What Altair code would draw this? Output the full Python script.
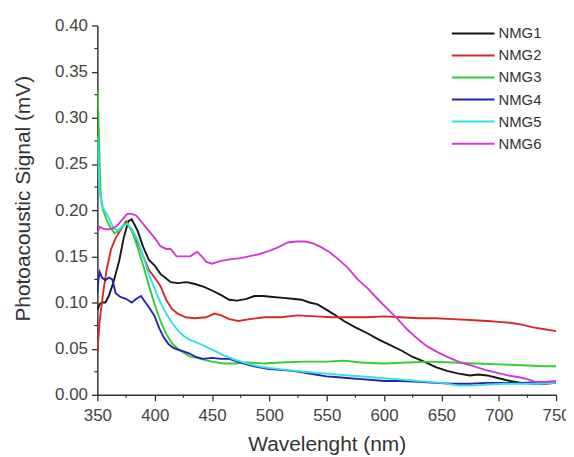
import altair as alt
import pandas as pd

series_names = ["NMG1", "NMG2", "NMG3", "NMG4", "NMG5", "NMG6"]
series_colors = ["#151515", "#d42a2a", "#33cc33", "#2323b0", "#33e0e6", "#d23ad2"]

nmg1_x = [350, 352, 354, 357, 360, 364, 369, 373, 377, 380, 385, 390, 395, 400, 405, 410, 414, 420, 428, 435,
          443, 450, 458, 465, 472, 480, 487, 495, 503, 512, 520, 528, 535, 542, 550, 558, 565, 575, 585, 595,
          605, 615, 625, 635, 645, 655, 665, 675, 682, 690, 700, 710, 720, 730, 740, 750]
nmg1_y = [0.092, 0.098, 0.100, 0.100, 0.107, 0.122, 0.145, 0.170, 0.188, 0.190, 0.178, 0.160, 0.146, 0.140,
          0.131, 0.126, 0.122, 0.121, 0.122, 0.120, 0.117, 0.113, 0.108, 0.103, 0.102, 0.104, 0.107, 0.107,
          0.106, 0.105, 0.104, 0.103, 0.100, 0.098, 0.092, 0.086, 0.080, 0.073, 0.067, 0.060, 0.054, 0.048,
          0.041, 0.036, 0.030, 0.026, 0.023, 0.021, 0.022, 0.021, 0.018, 0.015, 0.013, 0.012, 0.012, 0.013]

nmg2_x = [350, 352, 355, 358, 362, 366, 370, 375, 380, 385, 390, 395, 400, 405, 410, 415, 420, 427, 435, 445,
          452, 458, 465, 473, 483, 496, 510, 525, 540, 555, 570, 585, 600, 615, 630, 645, 660, 675, 690, 700,
          710, 720, 730, 740, 750]
nmg2_y = [0.046, 0.080, 0.110, 0.135, 0.158, 0.170, 0.178, 0.188, 0.178, 0.165, 0.150, 0.135, 0.127, 0.118,
          0.103, 0.093, 0.088, 0.084, 0.083, 0.084, 0.088, 0.086, 0.082, 0.080, 0.082, 0.084, 0.084, 0.086,
          0.085, 0.084, 0.084, 0.084, 0.085, 0.084, 0.083, 0.083, 0.082, 0.081, 0.080, 0.079, 0.078, 0.076,
          0.073, 0.071, 0.069]

nmg3_x = [350, 351, 352, 353, 355, 358, 361, 365, 369, 373, 376, 380, 385, 390, 395, 400, 405, 410, 415, 420,
          425, 430, 440, 450, 460, 470, 480, 495, 510, 530, 550, 565, 580, 600, 620, 640, 660, 680, 700, 720,
          740, 750]
nmg3_y = [0.330, 0.300, 0.250, 0.215, 0.200, 0.190, 0.182, 0.175, 0.178, 0.184, 0.186, 0.178, 0.160, 0.140,
          0.118, 0.098, 0.080, 0.066, 0.056, 0.050, 0.046, 0.042, 0.039, 0.036, 0.034, 0.034, 0.035, 0.034,
          0.035, 0.036, 0.036, 0.037, 0.035, 0.034, 0.035, 0.036, 0.035, 0.034, 0.033, 0.032, 0.031, 0.031]

nmg4_x = [350, 351, 352, 354, 357, 360, 363, 366, 370, 375, 380, 384, 388, 392, 396, 400, 404, 408, 412, 416,
          420, 425, 430, 436, 442, 450, 458, 465, 472, 480, 490, 500, 510, 520, 530, 540, 550, 560, 570, 580,
          590, 600, 615, 630, 645, 660, 675, 690, 705, 720, 735, 750]
nmg4_y = [0.110, 0.125, 0.133, 0.127, 0.124, 0.127, 0.125, 0.110, 0.106, 0.104, 0.100, 0.104, 0.107, 0.100,
          0.093, 0.085, 0.072, 0.062, 0.055, 0.051, 0.049, 0.047, 0.045, 0.041, 0.039, 0.040, 0.039, 0.039,
          0.036, 0.033, 0.030, 0.028, 0.027, 0.026, 0.024, 0.022, 0.020, 0.019, 0.018, 0.017, 0.016, 0.015,
          0.015, 0.014, 0.013, 0.012, 0.012, 0.013, 0.013, 0.013, 0.014, 0.014]

nmg5_x = [350, 351, 352, 354, 357, 360, 364, 368, 372, 376, 380, 385, 390, 395, 400, 405, 410, 415, 420, 425,
          430, 440, 450, 460, 470, 480, 490, 500, 515, 530, 550, 570, 590, 610, 630, 650, 665, 675, 690, 705,
          720, 735, 750]
nmg5_y = [0.280, 0.250, 0.220, 0.205, 0.198, 0.192, 0.180, 0.178, 0.183, 0.185, 0.180, 0.168, 0.150, 0.130,
          0.115, 0.100, 0.088, 0.078, 0.070, 0.064, 0.060, 0.055, 0.049, 0.043, 0.038, 0.034, 0.031, 0.029,
          0.027, 0.025, 0.023, 0.021, 0.019, 0.017, 0.015, 0.013, 0.010, 0.010, 0.011, 0.012, 0.012, 0.012,
          0.013]

nmg6_x = [350, 352, 355, 359, 363, 367, 372, 376, 380, 384, 388, 392, 396, 400, 405, 410, 414, 419, 425, 431,
          437, 441, 445, 450, 458, 467, 475, 482, 490, 500, 508, 516, 524, 531, 538, 545, 552, 560, 568, 577,
          586, 595, 603, 612, 620, 628, 637, 647, 657, 667, 678, 688, 698, 708, 718, 725, 732, 740, 750]
nmg6_y = [0.175, 0.182, 0.180, 0.179, 0.180, 0.183, 0.190, 0.196, 0.196, 0.194, 0.188, 0.182, 0.176, 0.170,
          0.161, 0.158, 0.158, 0.150, 0.150, 0.150, 0.155, 0.150, 0.144, 0.142, 0.145, 0.147, 0.148, 0.150,
          0.152, 0.156, 0.160, 0.165, 0.166, 0.166, 0.164, 0.160, 0.155, 0.147, 0.138, 0.125, 0.115, 0.103,
          0.093, 0.082, 0.071, 0.062, 0.053, 0.046, 0.040, 0.035, 0.031, 0.027, 0.024, 0.021, 0.019, 0.017,
          0.014, 0.014, 0.015]

x_ticks = [350, 400, 450, 500, 550, 600, 650, 700, 750]
x_minor = [375, 425, 475, 525, 575, 625, 675, 725]
y_ticks = [0.00, 0.05, 0.10, 0.15, 0.20, 0.25, 0.30, 0.35, 0.40]
y_minor = [0.025, 0.075, 0.125, 0.175, 0.225, 0.275, 0.325, 0.375]

all_x = [nmg1_x, nmg2_x, nmg3_x, nmg4_x, nmg5_x, nmg6_x]
all_y = [nmg1_y, nmg2_y, nmg3_y, nmg4_y, nmg5_y, nmg6_y]
rows = []
for i, (name, xs, ys) in enumerate(zip(series_names, all_x, all_y)):
    for j, (xv, yv) in enumerate(zip(xs, ys)):
        rows.append({"series": name, "order": i, "idx": j, "wl": xv, "signal": yv})
df = pd.DataFrame(rows)
leg_df = pd.DataFrame({"series": series_names})

FONT = "Liberation Sans"
xscale = alt.Scale(domain=[350, 750], nice=False, zero=False)
yscale = alt.Scale(domain=[0, 0.4], nice=False)
cscale = alt.Scale(domain=series_names, range=series_colors)
legscale = alt.Scale(type="point", domain=series_names, range=[8, 119], padding=0)

lines = alt.Chart(df).mark_line(strokeWidth=1.9, clip=True).encode(
    x=alt.X("wl:Q", scale=xscale,
            axis=alt.Axis(values=x_ticks, title="Wavelenght (nm)", format="d", labelFlush=False)),
    y=alt.Y("signal:Q", scale=yscale,
            axis=alt.Axis(values=y_ticks, title="Photoacoustic Signal (mV)", format=".2f", titleY=174)),
    color=alt.Color("series:N", scale=cscale, legend=None),
    detail="series:N",
    order="idx:Q",
)

yminor_df = pd.DataFrame({"v": y_minor})
xminor_df = pd.DataFrame({"v": x_minor})
ymin = alt.Chart(yminor_df).mark_rule(color="#333", strokeWidth=1.2).encode(
    y=alt.Y("v:Q", scale=yscale), x=alt.value(-3), x2=alt.value(0))
xmin = alt.Chart(xminor_df).mark_rule(color="#333", strokeWidth=1.2).encode(
    x=alt.X("v:Q", scale=xscale), y=alt.value(372), y2=alt.value(375))

leg_lines = alt.Chart(leg_df).mark_rule(strokeWidth=2).encode(
    y=alt.Y("series:N", scale=legscale, axis=None),
    x=alt.value(357), x2=alt.value(400),
    color=alt.Color("series:N", scale=cscale, legend=None),
)
leg_text = alt.Chart(leg_df).mark_text(align="left", baseline="middle", fontSize=15, font=FONT,
                                       color="#333").encode(
    y=alt.Y("series:N", scale=legscale, axis=None),
    x=alt.value(404),
    text="series:N",
)
legend = alt.layer(leg_lines, leg_text)
main = alt.layer(lines, ymin, xmin)

chart = alt.layer(main, legend).resolve_scale(y="independent").properties(
    width=462, height=372,
    padding={"left": 90, "top": 16, "right": 10, "bottom": 60},
    autosize="none",
).configure_view(stroke=None).configure_axis(
    grid=False, domainColor="#333", domainWidth=1.5, tickColor="#333", tickWidth=1.3,
    tickSize=6, labelFont=FONT, titleFont=FONT, labelFontSize=17, titleFontSize=21,
    labelColor="#444", titleColor="#333", titleFontWeight="normal",
).configure_axisY(titlePadding=21, labelPadding=4).configure_axisX(titlePadding=10, labelPadding=7)

chart.save("out.html", embed_options={"renderer": "svg", "actions": False})
